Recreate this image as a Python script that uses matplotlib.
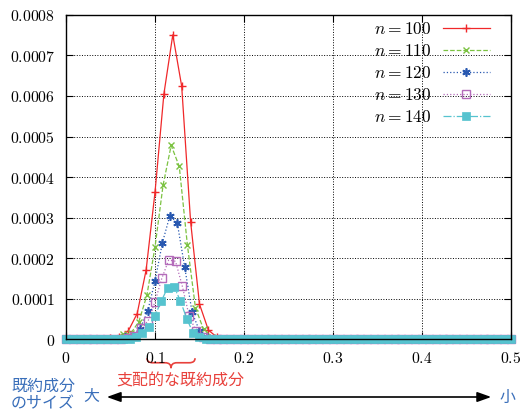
from matplotlib import pyplot as plt
from matplotlib.path import Path
from matplotlib.patches import PathPatch, FancyArrowPatch
import matplotlib.transforms as mtransforms
import numpy as np

plt.rcParams['mathtext.fontset'] = 'cm'
plt.rcParams['font.family'] = ['Noto Sans CJK JP', 'DejaVu Sans']

# sizes n, first nonzero index k0 and the values around the peak (x = k / n)
sizes = [100, 110, 120, 130, 140]
start_k = [5, 6, 8, 9, 10]
peak_100 = [0.000002, 0.000006, 0.00002, 0.000063, 0.00017, 0.000362, 0.000605,
            0.000751, 0.000624, 0.00029, 0.000086, 0.000022, 0.000004]
peak_110 = [0.000003, 0.000012, 0.000014, 0.0000425, 0.000108, 0.000227, 0.00038,
            0.000478, 0.000426, 0.000233, 0.000077, 0.000024, 0.000006, 0.000001]
peak_120 = [0.000005, 0.000008, 0.000026, 0.000068, 0.000143, 0.000238, 0.000304,
            0.000287, 0.000178, 0.000066, 0.00002, 0.000005, 0.000001]
peak_130 = [0.000002, 0.000008, 0.000027, 0.000045, 0.000092, 0.00015, 0.000195,
            0.000192, 0.00013, 0.000056, 0.00002, 0.000005, 0.000001]
peak_140 = [0.000001, 0.000005, 0.000014, 0.00003, 0.000058, 0.000094, 0.000127,
            0.000129, 0.000094, 0.00005, 0.000015, 0.000004, 0.000001]
peaks = [peak_100, peak_110, peak_120, peak_130, peak_140]

xticks = [0, 0.1, 0.2, 0.3, 0.4, 0.5]
xtick_labels = ['0', '0.1', '0.2', '0.3', '0.4', '0.5']
yticks = [0, 0.0001, 0.0002, 0.0003, 0.0004, 0.0005, 0.0006, 0.0007, 0.0008]
ytick_labels = ['0', '0.0001', '0.0002', '0.0003', '0.0004', '0.0005', '0.0006',
                '0.0007', '0.0008']

styles = [
    dict(color='#f0282a', ls='-', marker='+', ms=6, mew=1.0),
    dict(color='#7cc242', ls='--', marker='x', ms=5, mew=1.0),
    dict(color='#2858b0', ls=':', marker=(6, 2, 0), ms=6, mew=1.2),
    dict(color='#b46cba', ls=':', marker='s', ms=6, mew=1.0, mfc='none'),
    dict(color='#56c3cf', ls='-.', marker='s', ms=6, mew=0.5),
]


def brace(ax, x0, x1, y0, y1, y2, color):
    # curly brace below the axes, x in data units, y in figure fraction
    xc = (x0 + x1) / 2
    q = (x1 - x0) * 0.12
    verts = [(x0, y0), (x0, y1), (x0 + q, y1), (xc - q, y1), (xc, y1), (xc, y2),
             (xc, y1), (xc + q, y1), (x1 - q, y1), (x1, y1), (x1, y0)]
    codes = [Path.MOVETO, Path.CURVE3, Path.CURVE3, Path.LINETO, Path.CURVE3,
             Path.CURVE3, Path.CURVE3, Path.CURVE3, Path.LINETO, Path.CURVE3,
             Path.CURVE3]
    trans = mtransforms.blended_transform_factory(ax.transData, ax.figure.transFigure)
    ax.add_patch(PathPatch(Path(verts, codes), fc='none', ec=color, lw=1.2,
                           transform=trans, clip_on=False))


def main():
    fig = plt.figure(figsize=(5.22, 4.16), dpi=100)
    ax = fig.add_axes([0.1264, 0.185, 0.8526, 0.779])

    for n, k0, vals, st in zip(sizes, start_k, peaks, styles):
        k = np.arange(n // 2 + 1)
        y = np.zeros(len(k))
        y[k0:k0 + len(vals)] = vals
        ax.plot(k / n, y, lw=0.9, clip_on=False, label='$n = %d$' % n, **st)

    ax.set_xlim(0, 0.5)
    ax.set_ylim(0, 0.0008)
    ax.set_xticks(xticks)
    ax.set_xticklabels(['$%s$' % s for s in xtick_labels])
    ax.set_yticks(yticks)
    ax.set_yticklabels(['$%s$' % s for s in ytick_labels])
    ax.tick_params(direction='in', top=True, right=True, length=5, labelsize=11.3,
                   pad=8)
    ax.grid(True, color='black', ls=':', lw=0.7)
    for spine in ax.spines.values():
        spine.set_linewidth(1.0)

    ax.legend(loc='upper right', bbox_to_anchor=(0.968, 1.005), frameon=False,
              markerfirst=False, fontsize=12.5, numpoints=1,
              handlelength=2.7, labelspacing=0.22, borderaxespad=0,
              handletextpad=0.7)

    red = '#e8413c'
    blue = '#3a6fba'
    brace(ax, 0.091, 0.145, 0.139, 0.128, 0.115, red)
    fig.text(180 / 522, 1 - 381 / 416, '支配的な既約成分', color=red, fontsize=11.5,
             ha='center', va='center')
    fig.text(43 / 522, 1 - 395 / 416, '既約成分\nのサイズ', color=blue, fontsize=11.5,
             ha='center', va='center', linespacing=1.05)
    fig.text(91 / 522, 1 - 397 / 416, '大', color=blue, fontsize=11.5,
             ha='center', va='center')
    fig.text(508 / 522, 1 - 397 / 416, '小', color=blue, fontsize=11.5,
             ha='center', va='center')
    fig.add_artist(FancyArrowPatch(
        (104 / 522, 1 - 397 / 416), (494 / 522, 1 - 397 / 416),
        transform=fig.transFigure, arrowstyle='<|-|>,head_length=0.7,head_width=0.25',
        color='black', lw=1.2, mutation_scale=12))

    fig.savefig('out.png', dpi=100)


if __name__ == "__main__":
    main()
